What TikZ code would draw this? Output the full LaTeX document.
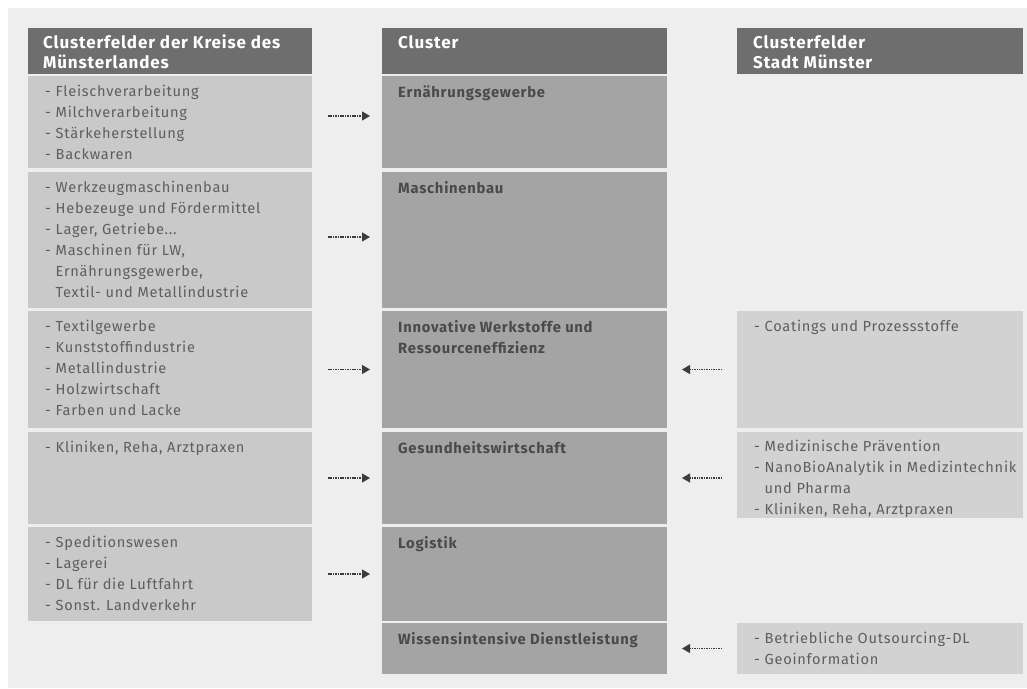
\documentclass[tikz,border=0pt]{standalone}
\usepackage{fontspec}
\setmainfont{Fira Sans}[LetterSpace=5]
\usetikzlibrary{arrows.meta}
\definecolor{bgc}{HTML}{EEEEEE}
\definecolor{hdc}{HTML}{6E6E6E}
\definecolor{lbc}{HTML}{C9C9C9}
\definecolor{mbc}{HTML}{A4A4A4}
\definecolor{rbc}{HTML}{D2D2D2}
\definecolor{txc}{HTML}{5E5E5E}
\definecolor{mtc}{HTML}{4A4A4A}
\definecolor{arc}{HTML}{3C3C3C}
\tikzset{
  boxbase/.style={draw=none, inner sep=0pt, anchor=north west, outer sep=0pt},
  hdbox/.style={boxbase, fill=hdc},
  lbox/.style={boxbase, fill=lbc, minimum width=284},
  mbox/.style={boxbase, fill=mbc, minimum width=285},
  rbox/.style={boxbase, fill=rbc, minimum width=286},
  hdtxt/.style={anchor=north west, inner sep=0pt, align=left, text=white, font=\fontsize{17}{20}\selectfont\bfseries},
  itxt/.style={anchor=north west, inner sep=0pt, align=left, text=txc, font=\fontsize{14.6}{21}\selectfont},
  mtxt/.style={anchor=north west, inner sep=0pt, align=left, text=mtc, font=\fontsize{14.8}{21}\selectfont\bfseries},
  arr/.style={draw=arc, line width=1.2pt, dash pattern=on 1.5pt off 0.9pt, -{Triangle[length=8pt,width=9pt]}, arc}
}
\newcommand{\ind}{\phantom{- }}
\begin{document}
\begin{tikzpicture}[x=1pt,y=-1pt]
\useasboundingbox (0,0) rectangle (1027,688);
\fill[white] (0,0) rectangle (1027,688);
\fill[bgc] (8,8) rectangle (1027,688);
% headers
\node[hdbox, minimum width=284, minimum height=46] (hl) at (28,28) {};
\node[hdbox, minimum width=285, minimum height=46] (hm) at (382,28) {};
\node[hdbox, minimum width=286, minimum height=46] (hr) at (737,28) {};
\node[hdtxt] (thl) at ([xshift=15,yshift=-7]hl.north west) {Clusterfelder der Kreise des\\Münsterlandes};
\node[hdtxt] (thm) at ([xshift=16,yshift=-7]hm.north west) {Cluster};
\node[hdtxt] (thr) at ([xshift=16,yshift=-7]hr.north west) {Clusterfelder\\Stadt Münster};
% left boxes
\node[lbox, minimum height=92] (l1) at (28,76) {};
\node[lbox, minimum height=136] (l2) at (28,172) {};
\node[lbox, minimum height=117] (l3) at (28,311) {};
\node[lbox, minimum height=92] (l4) at (28,432) {};
\node[lbox, minimum height=94] (l5) at (28,527) {};
% middle boxes
\node[mbox, minimum height=92] (m1) at (382,76) {};
\node[mbox, minimum height=136] (m2) at (382,172) {};
\node[mbox, minimum height=117] (m3) at (382,311) {};
\node[mbox, minimum height=92] (m4) at (382,432) {};
\node[mbox, minimum height=94] (m5) at (382,527) {};
\node[mbox, minimum height=51] (m6) at (382,623) {};
% right boxes
\node[rbox, minimum height=117] (r1) at (737,311) {};
\node[rbox, minimum height=86] (r2) at (737,432) {};
\node[rbox, minimum height=51] (r3) at (737,623) {};
% left texts
\node[itxt] (tl1) at ([xshift=17,yshift=-9]l1.north west) {- Fleischverarbeitung\\- Milchverarbeitung\\- Stärkeherstellung\\- Backwaren};
\node[itxt] (tl2) at ([xshift=17,yshift=-9]l2.north west) {- Werkzeugmaschinenbau\\- Hebezeuge und Fördermittel\\- Lager, Getriebe...\\- Maschinen für LW,\\\ind Ernährungsgewerbe,\\\ind Textil- und Metallindustrie};
\node[itxt] (tl3) at ([xshift=17,yshift=-9]l3.north west) {- Textilgewerbe\\- Kunststoffindustrie\\- Metallindustrie\\- Holzwirtschaft\\- Farben und Lacke};
\node[itxt] (tl4) at ([xshift=17,yshift=-9]l4.north west) {- Kliniken, Reha, Arztpraxen};
\node[itxt] (tl5) at ([xshift=17,yshift=-9]l5.north west) {- Speditionswesen\\- Lagerei\\- DL für die Luftfahrt\\- Sonst. Landverkehr};
% middle texts
\node[mtxt] (tm1) at ([xshift=16,yshift=-9]m1.north west) {Ernährungsgewerbe};
\node[mtxt] (tm2) at ([xshift=16,yshift=-9]m2.north west) {Maschinenbau};
\node[mtxt] (tm3) at ([xshift=16,yshift=-9]m3.north west) {Innovative Werkstoffe und\\Ressourceneffizienz};
\node[mtxt] (tm4) at ([xshift=16,yshift=-9]m4.north west) {Gesundheitswirtschaft};
\node[mtxt] (tm5) at ([xshift=16,yshift=-9]m5.north west) {Logistik};
\node[mtxt] (tm6) at ([xshift=16,yshift=-9]m6.north west) {Wissensintensive Dienstleistung};
% right texts
\node[itxt] (tr1) at ([xshift=17,yshift=-9]r1.north west) {- Coatings und Prozessstoffe};
\node[itxt] (tr2) at ([xshift=17,yshift=-8]r2.north west) {- Medizinische Prävention\\- NanoBioAnalytik in Medizintechnik\\\ind und Pharma\\- Kliniken, Reha, Arztpraxen};
\node[itxt] (tr3) at ([xshift=17,yshift=-9]r3.north west) {- Betriebliche Outsourcing-DL\\- Geoinformation};
% arrows
\draw[arr] ([xshift=16,yshift=6]l1.east) -- ([xshift=-12,yshift=6]l1.east -| m1.west);
\draw[arr] ([xshift=16,yshift=3]l2.east) -- ([xshift=-12,yshift=3]l2.east -| m2.west);
\draw[arr] ([xshift=16]l3.east) -- ([xshift=-12]l3.east -| m3.west);
\draw[arr] ([xshift=16]l4.east) -- ([xshift=-12]l4.east -| m4.west);
\draw[arr] ([xshift=16]l5.east) -- ([xshift=-12]l5.east -| m5.west);
\draw[arr] ([xshift=-15]m3.east -| r1.west) -- ([xshift=15]m3.east);
\draw[arr] ([xshift=-15]m4.east -| r2.west) -- ([xshift=15]m4.east);
\draw[arr] ([xshift=-15]m6.east -| r3.west) -- ([xshift=15]m6.east);
\end{tikzpicture}
\end{document}
